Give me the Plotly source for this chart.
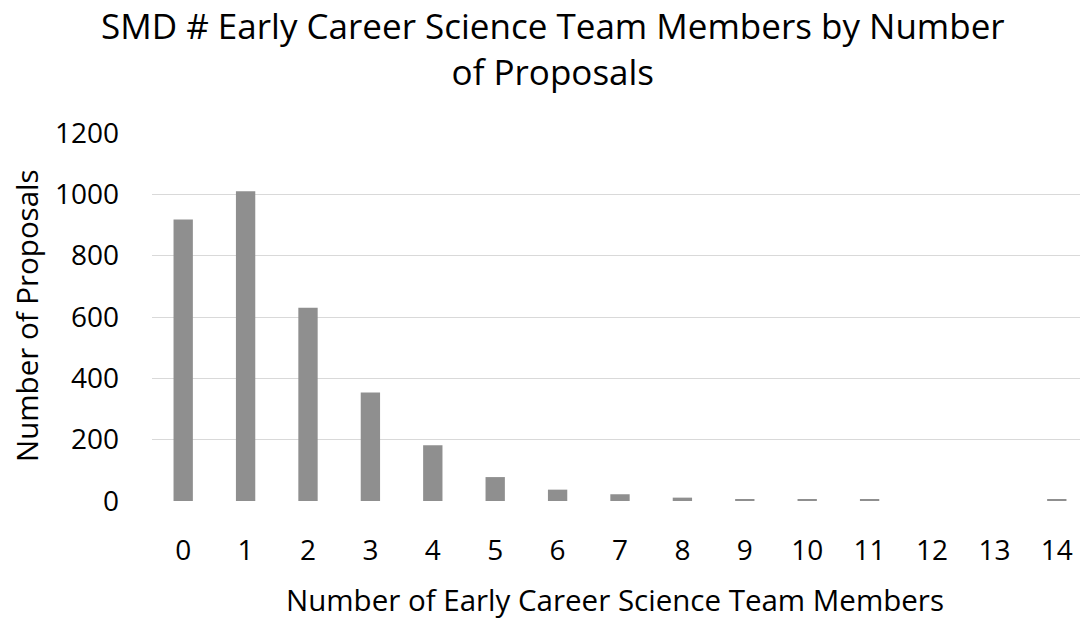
import plotly.graph_objects as go

# Number of early career science team members per proposal
members = list(range(15))
proposals = [918, 1010, 630, 354, 182, 78, 37, 22, 11, 6, 6, 6, 0, 0, 6]
y_ticks = [0, 200, 400, 600, 800, 1000, 1200]
title_lines = ["SMD # Early Career Science Team Members by Number", "of Proposals"]

FONT = "Open Sans"
W, H = 1080, 620
L, R, T, B = 152, 0, 133, 119
plot_w = W - L - R
plot_h = H - T - B


def px_x(px):
    """Page pixel column -> paper x fraction."""
    return (px - L) / plot_w


def px_y(py):
    """Page pixel row -> paper y fraction."""
    return (H - B - py) / plot_h


fig = go.Figure(
    go.Bar(
        x=members,
        y=proposals,
        marker=dict(color="#8f8f8f", line=dict(width=0)),
        width=0.31,
    )
)

annotations = [
    dict(
        text="<br>".join(title_lines),
        xref="paper",
        yref="paper",
        x=px_x(553),
        y=px_y(48),
        xanchor="center",
        yanchor="middle",
        showarrow=False,
        font=dict(family=FONT, size=35, color="#000000"),
    ),
    dict(
        text="Number of Proposals",
        xref="paper",
        yref="paper",
        x=px_x(26),
        y=px_y(316),
        xanchor="center",
        yanchor="middle",
        textangle=-90,
        showarrow=False,
        font=dict(family=FONT, size=29.5),
    ),
    dict(
        text="Number of Early Career Science Team Members",
        xref="paper",
        yref="paper",
        x=px_x(615),
        y=px_y(599),
        xanchor="center",
        yanchor="middle",
        showarrow=False,
        font=dict(family=FONT, size=29.5),
    ),
]

fig.update_layout(
    width=W,
    height=H,
    margin=dict(l=L, r=R, t=T, b=B, pad=0),
    paper_bgcolor="white",
    plot_bgcolor="white",
    showlegend=False,
    font=dict(family=FONT, color="#000000", size=28),
    xaxis=dict(
        range=[-0.5, -0.5 + plot_w / 62.4],
        tickmode="array",
        tickvals=members,
        ticktext=[str(m) for m in members],
        showgrid=False,
        zeroline=False,
        showline=False,
        ticks="",
        ticklabelstandoff=30,
        tickfont=dict(family=FONT, size=28),
    ),
    yaxis=dict(
        range=[0, 1200],
        tickmode="array",
        tickvals=y_ticks,
        ticktext=[str(v) for v in y_ticks],
        showgrid=True,
        gridcolor="#d9d9d9",
        gridwidth=1.3,
        zeroline=False,
        showline=False,
        ticks="",
        ticklabelstandoff=32,
        tickfont=dict(family=FONT, size=28),
    ),
    annotations=annotations,
)

fig.write_html("out.html")
